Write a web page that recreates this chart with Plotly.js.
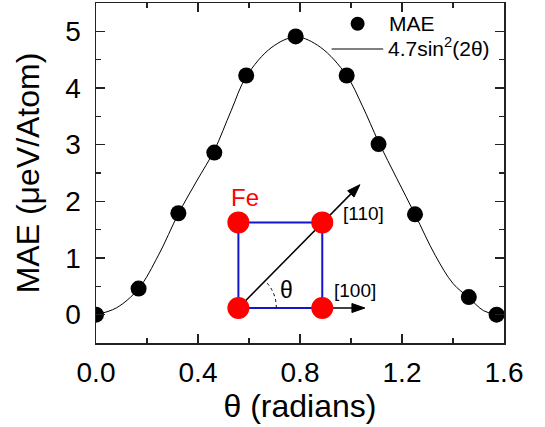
<!DOCTYPE html>
<html>
<head>
<meta charset="utf-8">
<script src="https://cdn.plot.ly/plotly-3.0.1.min.js"></script>
<style>html,body{margin:0;padding:0;background:#fff;}#chart{width:545px;height:427px;}</style>
</head>
<body>
<div id="chart"></div>
<script>
// Data
var thetaRad = [0, 0.167, 0.323, 0.464, 0.589, 0.783, 0.983, 1.108, 1.251, 1.462, 1.571];
var maeVals  = [0, 0.46, 1.79, 2.86, 4.22, 4.91, 4.22, 3.01, 1.77, 0.31, 0];
// Fitted curve as traced on the picture
var fitTheta = [0, 0.08, 0.167, 0.245, 0.323, 0.395, 0.464, 0.53, 0.589, 0.69, 0.785, 0.88, 0.983, 1.045, 1.108, 1.18, 1.251, 1.33, 1.40, 1.462, 1.52, 1.571];
var fitMAE   = [0, 0.12, 0.46, 1.05, 1.78, 2.36, 2.9, 3.6, 4.2, 4.72, 4.9, 4.72, 4.22, 3.68, 3.05, 2.4, 1.77, 1.05, 0.55, 0.3, 0.07, 0];
var xTickVals = [0, 0.4, 0.8, 1.2, 1.6];
var xTickText = ['0.0', '0.4', '0.8', '1.2', '1.6'];
var yTickVals = [0, 1, 2, 3, 4, 5];
var legendNames = ['MAE', '4.7sin<sup>2</sup>(2θ)'];

var FONT = 'Liberation Sans, Arial, sans-serif';

var traces = [
  {x: fitTheta, y: fitMAE, mode: 'lines', type: 'scatter', line: {color: '#000', width: 1, shape: 'spline'}, hoverinfo: 'skip', name: legendNames[1]},
  {x: thetaRad, y: maeVals, mode: 'markers', type: 'scatter', marker: {color: '#000', size: 16}, name: legendNames[0]}
];

function px2x(p){ return (p - 95.7) / 408.6; }
function px2y(p){ return (343.3 - p) / 340; }
function pt(px, py){ return px2x(px) + ',' + px2y(py); }

var BLx = px2x(238.3), BRx = px2x(322.3), By = px2y(308.3), Ty = px2y(222.7);
var blue = '#1414c8';

var shapes = [
  // square edges
  {type:'line', xref:'paper', yref:'paper', x0:BLx, y0:By, x1:BRx, y1:By, line:{color:blue, width:2}},
  {type:'line', xref:'paper', yref:'paper', x0:BLx, y0:Ty, x1:BRx, y1:Ty, line:{color:blue, width:2}},
  {type:'line', xref:'paper', yref:'paper', x0:BLx, y0:By, x1:BLx, y1:Ty, line:{color:blue, width:2}},
  {type:'line', xref:'paper', yref:'paper', x0:BRx, y0:By, x1:BRx, y1:Ty, line:{color:blue, width:2}},
  // arrow shafts
  {type:'line', xref:'paper', yref:'paper', x0:BLx, y0:By, x1:px2x(351), y1:px2y(194.2), line:{color:'#000', width:1.5}},
  {type:'line', xref:'paper', yref:'paper', x0:BRx, y0:By, x1:px2x(353), y1:By, line:{color:'#000', width:1.5}},
  // arrow heads
  {type:'path', xref:'paper', yref:'paper', path:'M ' + pt(360,185) + ' L ' + pt(354.1,197.4) + ' L ' + pt(347.7,191.1) + ' Z', fillcolor:'#000', line:{color:'#000', width:1}},
  {type:'path', xref:'paper', yref:'paper', path:'M ' + pt(365,308.3) + ' L ' + pt(352,303.8) + ' L ' + pt(352,312.8) + ' Z', fillcolor:'#000', line:{color:'#000', width:1}},
  // angle arc
  {type:'path', xref:'paper', yref:'paper', path:'M ' + pt(276.3,308.3) + ' Q ' + pt(276.3,292.56) + ' ' + pt(265.2,281.4), line:{color:'#000', width:1, dash:'dot'}},
  // legend line
  {type:'line', xref:'paper', yref:'paper', x0:px2x(331.7), y0:px2y(49.3), x1:px2x(383.3), y1:px2y(49.3), line:{color:'#000', width:1}},
  // legend marker
  {type:'circle', xref:'paper', yref:'paper', xsizemode:'pixel', ysizemode:'pixel', xanchor:px2x(357.7), yanchor:px2y(24), x0:-7, x1:7, y0:-7, y1:7, fillcolor:'#000', line:{width:0}}
];
[[BLx,By],[BRx,By],[BLx,Ty],[BRx,Ty]].forEach(function(c){
  shapes.push({type:'circle', xref:'paper', yref:'paper', xsizemode:'pixel', ysizemode:'pixel', xanchor:c[0], yanchor:c[1], x0:-11, x1:11, y0:-11, y1:11, fillcolor:'#ff0000', line:{width:0}});
});

function label(px, py, txt, size, color, xa){
  return {xref:'paper', yref:'paper', x:px2x(px), y:px2y(py), xanchor:xa || 'center', yanchor:'middle',
          text:txt, showarrow:false, font:{family:FONT, size:size, color:color}};
}

var annotations = [
  label(245, 198, 'Fe', 24, '#ff0000'),
  label(364, 214, '[110]', 19, '#000'),
  label(355, 290.7, '[100]', 19, '#000'),
  label(286, 290, 'θ', 23, '#000'),
  label(387, 24, legendNames[0], 21, '#000', 'left'),
  label(386, 47, legendNames[1], 21, '#000', 'left')
];

var axisCommon = {
  showgrid:false, zeroline:false, showline:true, linecolor:'#222', linewidth:1.5,
  mirror:'allticks', ticks:'inside', ticklen:9, tickwidth:1.5, tickcolor:'#222',
  tickfont:{family:FONT, size:28, color:'#000'}
};

var layout = {
  width:545, height:427,
  margin:{l:95.7, r:40.7, t:3.3, b:83.7},
  paper_bgcolor:'#fff', plot_bgcolor:'#fff',
  showlegend:false,
  font:{family:FONT, color:'#000'},
  xaxis: Object.assign({}, axisCommon, {
    range:[0, 1.6], tickvals:xTickVals, ticktext:xTickText,
    minor:{ticks:'inside', dtick:0.2, ticklen:5, tickwidth:1.5, tickcolor:'#222'},
    ticklabelstandoff:4,
    title:{text:'θ (radians)', font:{family:FONT, size:32, color:'#000'}, standoff:0}
  }),
  yaxis: Object.assign({}, axisCommon, {
    range:[-0.5, 5.5], tickvals:yTickVals,
    minor:{ticks:'inside', dtick:0.5, ticklen:5, tickwidth:1.5, tickcolor:'#222'},
    ticklabelstandoff:8,
    title:{text:'MAE (μeV/Atom)', font:{family:FONT, size:32, color:'#000'}, standoff:16}
  }),
  shapes:shapes,
  annotations:annotations
};

Plotly.newPlot('chart', traces, layout, {displayModeBar:false, staticPlot:true});
</script>
</body>
</html>
